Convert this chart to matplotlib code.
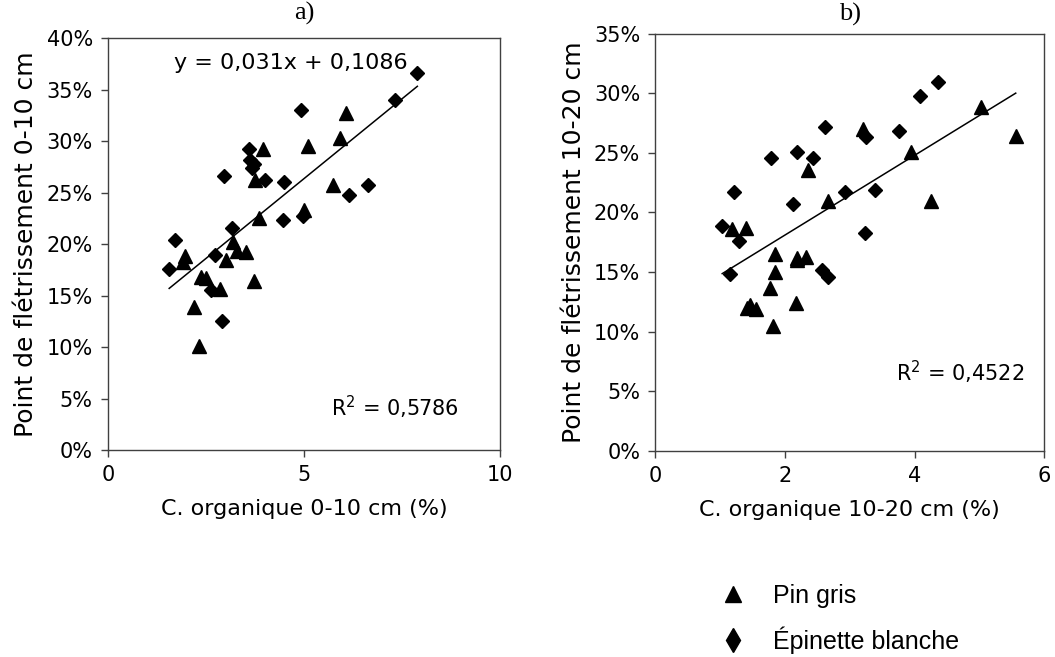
import matplotlib
matplotlib.use('Agg')
import matplotlib.pyplot as plt
import numpy as np
from matplotlib.ticker import PercentFormatter
from matplotlib.lines import Line2D

# --- data ---

# a) 0-10 cm
pin_a_x = [6.06, 5.92, 5.11, 3.96, 3.75, 5.74, 5.00, 3.84, 3.19, 3.28,
           3.53, 1.96, 1.91, 3.00, 2.37, 2.49, 3.73, 2.85, 2.19, 2.32]
pin_a_y = [0.327, 0.303, 0.295, 0.292, 0.262, 0.257, 0.233, 0.225, 0.202, 0.193,
           0.192, 0.188, 0.183, 0.185, 0.168, 0.167, 0.164, 0.156, 0.139, 0.101]
epi_a_x = [7.89, 7.32, 4.93, 3.60, 3.62, 3.72, 3.66, 2.96, 4.00, 4.49,
           6.63, 6.15, 4.47, 4.98, 3.17, 1.70, 2.74, 1.56, 2.62, 2.91]
epi_a_y = [0.366, 0.340, 0.330, 0.292, 0.282, 0.278, 0.274, 0.266, 0.262, 0.260,
           0.257, 0.248, 0.223, 0.227, 0.216, 0.204, 0.189, 0.176, 0.155, 0.125]
slope_a, intercept_a = 0.031, 0.1086
r2_a = "0,5786"

# b) 10-20 cm
pin_b_x = [3.21, 5.03, 5.56, 3.95, 2.36, 2.67, 4.25, 1.18, 1.39, 1.84,
           2.18, 2.32, 2.18, 1.85, 1.76, 1.46, 1.55, 1.42, 2.17, 1.82]
pin_b_y = [0.270, 0.288, 0.264, 0.251, 0.236, 0.210, 0.210, 0.186, 0.187, 0.165,
           0.162, 0.163, 0.160, 0.150, 0.137, 0.122, 0.119, 0.120, 0.124, 0.105]
epi_b_x = [4.36, 4.08, 2.62, 3.76, 3.25, 1.78, 2.18, 2.43, 1.21, 2.13,
           2.93, 3.39, 1.03, 3.23, 1.29, 1.15, 2.57, 2.66]
epi_b_y = [0.309, 0.298, 0.272, 0.268, 0.263, 0.246, 0.251, 0.246, 0.217, 0.207,
           0.217, 0.219, 0.189, 0.183, 0.176, 0.148, 0.152, 0.146]
slope_b, intercept_b = 0.0334, 0.1143
r2_b = "0,4522"

fig = plt.figure(figsize=(10.55, 6.57), dpi=100)
ax_a = fig.add_axes([0.1024, 0.315, 0.3716, 0.627])
ax_b = fig.add_axes([0.6213, 0.3135, 0.3685, 0.6355])

tick_fs = 15
spine_col = '#404040'


def draw_panel(ax, px, py, ex, ey, slope, intercept, xmax, ymax, xticks):
    ax.plot(px, py, '^', color='black', ms=9.5, ls='none')
    ax.plot(ex, ey, 'D', color='black', ms=7, ls='none')
    allx = np.array(list(px) + list(ex))
    xs = np.array([allx.min(), allx.max()])
    ax.plot(xs, slope * xs + intercept, color='black', lw=1.1)
    ax.set_xlim(0, xmax)
    ax.set_ylim(0, ymax)
    ax.set_xticks(xticks)
    ax.set_yticks(np.arange(0, ymax + 0.001, 0.05))
    ax.yaxis.set_major_formatter(PercentFormatter(1.0, decimals=0))
    ax.tick_params(direction='out', length=5, width=1, color=spine_col,
                   labelsize=tick_fs, pad=6)
    for s in ax.spines.values():
        s.set_color(spine_col)
        s.set_linewidth(1)


draw_panel(ax_a, pin_a_x, pin_a_y, epi_a_x, epi_a_y, slope_a, intercept_a,
           10, 0.40, [0, 5, 10])
draw_panel(ax_b, pin_b_x, pin_b_y, epi_b_x, epi_b_y, slope_b, intercept_b,
           6, 0.35, [0, 2, 4, 6])

ax_a.set_xlabel("C. organique 0-10 cm (%)", fontsize=16, labelpad=10)
ax_a.set_ylabel("Point de flétrissement 0-10 cm", fontsize=18, labelpad=6)
ax_b.set_xlabel("C. organique 10-20 cm (%)", fontsize=16, labelpad=10)
ax_b.set_ylabel("Point de flétrissement 10-20 cm", fontsize=18, labelpad=6)

ax_a.text(4.66, 0.376, "y = 0,031x + 0,1086", fontsize=16, ha='center', va='center')
ax_a.text(7.32, 0.041, "R$^2$ = " + r2_a, fontsize=15, ha='center', va='center')
ax_b.text(4.70, 0.066, "R$^2$ = " + r2_b, fontsize=15, ha='center', va='center')

ax_a.set_title("a)", fontsize=19, family='Liberation Serif', pad=13)
ax_b.set_title("b)", fontsize=19, family='Liberation Serif', pad=9)

handles = [Line2D([], [], marker='^', color='black', ls='none', ms=11),
           Line2D([], [], marker='d', color='black', ls='none', ms=12)]
fig.legend(handles, ["Pin gris", "Épinette blanche"], loc='upper left',
           bbox_to_anchor=(0.650, 0.146), frameon=False,
           prop={'family': 'Liberation Sans', 'size': 18},
           handletextpad=0.6, labelspacing=0.75)

fig.savefig("out.png", dpi=100)
